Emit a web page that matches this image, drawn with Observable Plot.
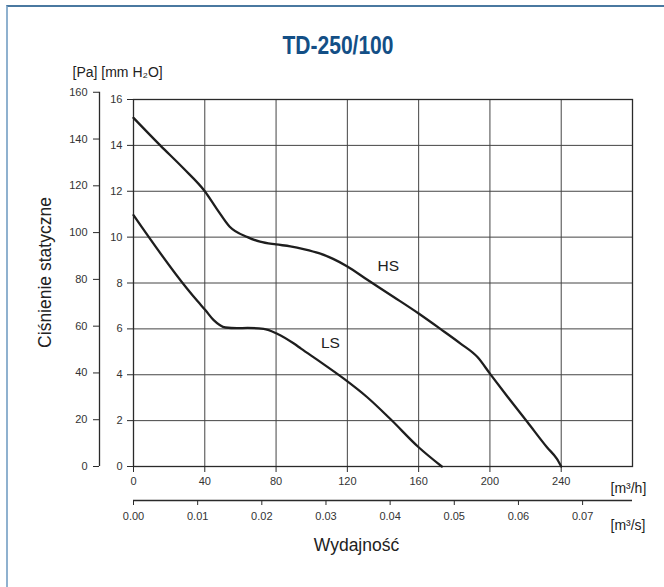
<!DOCTYPE html>
<html>
<head>
<meta charset="utf-8">
<script src="https://cdn.jsdelivr.net/npm/d3@7"></script>
<script src="https://cdn.jsdelivr.net/npm/@observablehq/plot@0.6"></script>
<style>
  html, body { margin: 0; padding: 0; background: #fff; overflow: hidden; }
  #wrap { position: relative; width: 664px; height: 587px; }
  #border { position: absolute; left: 6px; top: 5px; right: -20px; bottom: -20px;
            border-top: 2px solid #4a78a0; border-left: 2px solid #8fb1cf; pointer-events: none; }
  #chart { position: absolute; left: 0; top: 0; }
</style>
</head>
<body>
<div id="wrap"><div id="chart"></div><div id="border"></div></div>
<script>
// Flow in m³/h, static pressure in mm H2O
const hsFlow = [0, 15, 28, 40, 47, 54, 64, 71, 80, 88, 96, 104, 112, 120, 131, 146, 160, 172, 183.5, 193, 200, 210, 221, 232, 237.5, 240];
const hsPres = [15.2, 14.0, 13.0, 12.0, 11.2, 10.45, 10.0, 9.8, 9.68, 9.6, 9.47, 9.3, 9.05, 8.72, 8.15, 7.39, 6.67, 6.01, 5.36, 4.77, 4.05, 3.03, 1.94, 0.84, 0.34, 0];
const lsFlow = [0, 30, 36, 40.4, 45, 51.6, 58, 64, 73, 80.6, 90, 94, 105, 118, 131, 144, 160, 173];
const lsPres = [10.96, 7.76, 7.2, 6.81, 6.38, 6.06, 6.03, 6.04, 6.0, 5.79, 5.36, 5.14, 4.55, 3.83, 3.03, 2.08, 0.84, 0];

const flowTicksM3h = [0, 40, 80, 120, 160, 200, 240];
const flowTicksM3s = [0, 0.01, 0.02, 0.03, 0.04, 0.05, 0.06, 0.07];
const mmTicks = [0, 2, 4, 6, 8, 10, 12, 14, 16];
const paTicks = [0, 20, 40, 60, 80, 100, 120, 140, 160];
const gridX = [40, 80, 120, 160, 200, 240];
const gridY = [2, 4, 6, 8, 10, 12, 14];

const curveNames = ["HS", "LS"];
const labelFlow = [143, 110.5];
const labelPres = [8.73, 5.37];

const PA_PER_MM = 9.80665;
const M3H_PER_M3S = 3600;

const hsData = hsFlow.map((q, i) => ({q, p: hsPres[i]}));
const lsData = lsFlow.map((q, i) => ({q, p: lsPres[i]}));
const labels = curveNames.map((n, i) => ({n, q: labelFlow[i], p: labelPres[i]}));

const ink = "#2a2a2a";
const chart = Plot.plot({
  width: 664,
  height: 587,
  marginLeft: 133,
  marginRight: 32,
  marginTop: 99,
  marginBottom: 121,
  style: {fontFamily: "'Liberation Sans', Arial, sans-serif", fontSize: "11px", color: "#333", background: "transparent"},
  x: {domain: [0, 280]},
  y: {domain: [0, 16]},
  marks: [
    Plot.ruleX(gridX, {stroke: "#444", strokeWidth: 1}),
    Plot.ruleY(gridY, {stroke: "#444", strokeWidth: 1}),
    Plot.frame({stroke: ink, strokeWidth: 1.3}),
    // inner mm H2O axis
    Plot.axisY(mmTicks, {anchor: "left", tickSize: 6, tickPadding: 5, label: null, stroke: ink, fill: "#333"}),
    // outer Pa axis
    Plot.axisY(paTicks.map(p => p / PA_PER_MM), {anchor: "left", tickSize: 6, tickPadding: 6, dx: -34, label: null,
      tickFormat: d => Math.round(d * PA_PER_MM), stroke: ink, fill: "#333"}),
    Plot.ruleX([0], {y1: 0, y2: 160 / PA_PER_MM, dx: -34, stroke: ink, strokeWidth: 1.3}),
    // m3/h axis
    Plot.axisX(flowTicksM3h, {anchor: "bottom", tickSize: 6, tickPadding: 5, label: null, stroke: ink, fill: "#333"}),
    // m3/s axis
    Plot.ruleY([0], {x1: 0, x2: 280, dy: 34, stroke: ink, strokeWidth: 1.3}),
    Plot.axisX(flowTicksM3s.map(v => v * M3H_PER_M3S), {anchor: "bottom", dy: 34, tickSize: 5, tickPadding: 7, label: null,
      tickFormat: d => (d / M3H_PER_M3S).toFixed(2), stroke: ink, fill: "#333"}),
    // curves
    Plot.line(hsData, {x: "q", y: "p", curve: "monotone-x", stroke: "#1e1e1e", strokeWidth: 2.3}),
    Plot.line(lsData, {x: "q", y: "p", curve: "monotone-x", stroke: "#1e1e1e", strokeWidth: 2.3}),
    Plot.text(labels, {x: "q", y: "p", text: "n", fontSize: 15.5, fill: "#222"}),
    // titles and unit labels
    Plot.text(["TD-250/100"], {frameAnchor: "top", dx: -45, dy: -54, fontSize: 25, fontWeight: "bold",
      fill: "#134f86", lineAnchor: "middle"}),
    Plot.text(["[Pa] [mm H₂O]"], {frameAnchor: "top-left", dx: -61, dy: -27, textAnchor: "start", lineAnchor: "middle", fontSize: 14, fill: "#222"}),
    Plot.text(["Ciśnienie statyczne"], {frameAnchor: "left", dx: -88, dy: -10.5, rotate: -90, textAnchor: "middle", lineAnchor: "middle", fontSize: 17.5, fill: "#222"}),
    Plot.text(["Wydajność"], {frameAnchor: "bottom", dx: -26.5, dy: 79, textAnchor: "middle", lineAnchor: "middle", fontSize: 17.5, fill: "#222"}),
    Plot.text(["[m³/h]"], {frameAnchor: "bottom-right", dx: -22, dy: 22, textAnchor: "start", lineAnchor: "middle", fontSize: 14, fill: "#222"}),
    Plot.text(["[m³/s]"], {frameAnchor: "bottom-right", dx: -22, dy: 59, textAnchor: "start", lineAnchor: "middle", fontSize: 14, fill: "#222"})
  ]
});
// condensed look for the title
d3.select(chart).selectAll("text").filter(function() { return this.textContent === "TD-250/100"; })
  .attr("textLength", 111).attr("lengthAdjust", "spacingAndGlyphs");
document.getElementById("chart").append(chart);
</script>
</body>
</html>
